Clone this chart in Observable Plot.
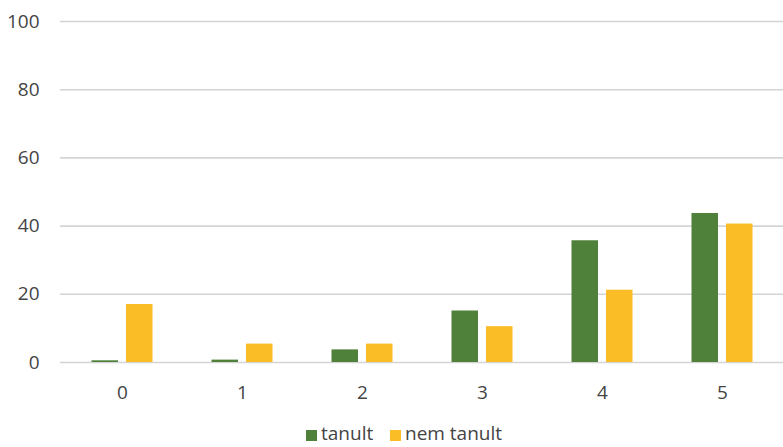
<!DOCTYPE html>
<html>
<head>
<meta charset="utf-8">
<script src="https://cdn.jsdelivr.net/npm/d3@7"></script>
<script src="https://cdn.jsdelivr.net/npm/@observablehq/plot@0.6"></script>
<style>
  body { margin: 0; background: #fff; font-family: "Open Sans", sans-serif; overflow: hidden; position: relative; width: 783px; height: 447px; }
  #legend { position: absolute; left: 0; top: 420px; width: 783px; height: 26px; font-size: 19px; color: #444; line-height: 26px; }
  .sw { position: absolute; width: 11px; height: 11px; top: 10px; }
  .lbl { position: absolute; top: 0; white-space: nowrap; }
</style>
</head>
<body>
<div id="chart"></div>
<div id="legend"></div>
<script>
const categories = ["0", "1", "2", "3", "4", "5"];
const seriesNames = ["tanult", "nem tanult"];
const tanult = [0.5, 0.7, 3.7, 15.1, 35.7, 43.7];
const nemTanult = [17.0, 5.4, 5.4, 10.5, 21.2, 40.6];
const yTicks = [0, 20, 40, 60, 80, 100];
const colors = ["#4f813b", "#fbbd25"];

const tanultData = categories.map((c, i) => ({cat: c, value: tanult[i]}));
const nemData = categories.map((c, i) => ({cat: c, value: nemTanult[i]}));

const chart = Plot.plot({
  width: 783,
  height: 416,
  marginLeft: 60,
  marginRight: 0,
  marginTop: 21,
  marginBottom: 54,
  style: {fontFamily: "Open Sans, sans-serif", fontSize: "19px", color: "#444", background: "#fff"},
  x: {domain: categories, padding: 0, label: null},
  y: {domain: [0, 100], label: null},
  marks: [
    Plot.ruleY(yTicks, {stroke: "#d4d4d4", strokeWidth: 1.6}),
    Plot.barY(tanultData, {x: "cat", y: "value", fill: colors[0], insetLeft: 29.5, insetRight: 64}),
    Plot.barY(nemData, {x: "cat", y: "value", fill: colors[1], insetLeft: 64, insetRight: 29.5}),
    Plot.axisY(yTicks, {tickSize: 0, tickPadding: 21, label: null, fontSize: 19}),
    Plot.axisX({tickSize: 0, tickPadding: 23, label: null, fontSize: 19})
  ]
});
document.getElementById("chart").appendChild(chart);

const legend = document.getElementById("legend");
const swLeft = [306, 390];
const txtLeft = [321, 405];
seriesNames.forEach((s, i) => {
  const sw = document.createElement("span");
  sw.className = "sw";
  sw.style.background = colors[i];
  sw.style.left = swLeft[i] + "px";
  legend.appendChild(sw);
  const t = document.createElement("span");
  t.className = "lbl";
  t.style.left = txtLeft[i] + "px";
  t.textContent = s;
  legend.appendChild(t);
});
</script>
</body>
</html>
